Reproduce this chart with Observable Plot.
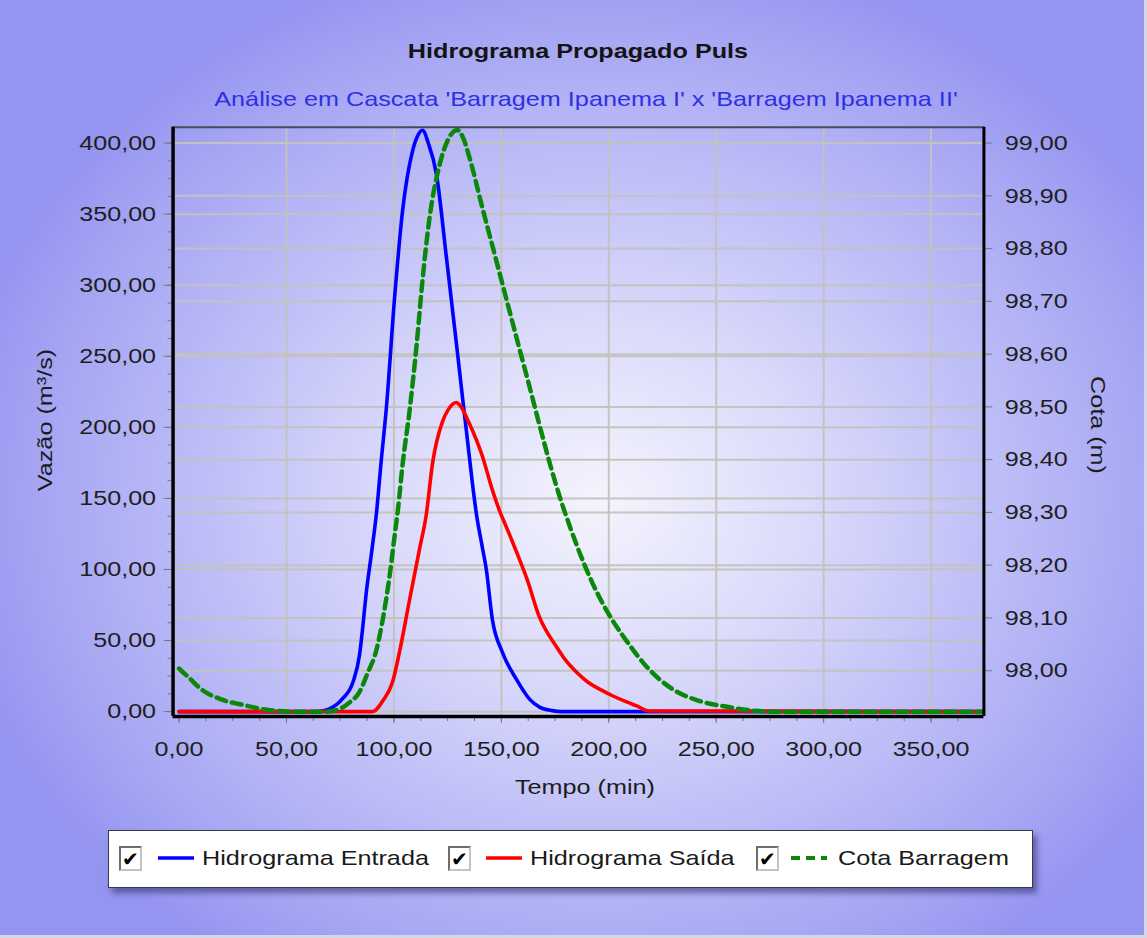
<!DOCTYPE html>
<html>
<head>
<meta charset="utf-8">
<script src="https://cdn.jsdelivr.net/npm/d3@7"></script>
<script src="https://cdn.jsdelivr.net/npm/@observablehq/plot@0.6"></script>
<style>
  html, body { margin: 0; padding: 0; }
  #wrap {
    position: relative; width: 1147px; height: 938px; overflow: hidden;
    font-family: "Liberation Sans", Arial, sans-serif; color: #1c1c1c;
    background: radial-gradient(ellipse 660px 560px at 600px 500px, #f4f4fd 0%, #dcdcfb 30%, #bcbcf7 62%, #a2a2f3 88%, #9494f1 100%);
    box-sizing: border-box; border-right: 3px solid #d6d6e4; border-bottom: 3px solid #d6d6e4;
  }
  #wrap svg { position: absolute; left: 0; top: 0; }
  .abs { position: absolute; white-space: nowrap; line-height: 24px; }
  .sx { display: inline-block; transform: scaleX(1.2); }
  .cb { position: absolute; width: 23px; height: 25px; background: #fff; box-sizing: border-box;
        border: 2px solid; border-color: #6e6e6e #c4c4c4 #c4c4c4 #6e6e6e;
        font: bold 20px "DejaVu Sans", sans-serif; line-height: 22px; text-align: center; color: #000; }
</style>
</head>
<body>
<div id="wrap"></div>
<script>
// ---------- data ----------
const tempoTicks = [0, 50, 100, 150, 200, 250, 300, 350];
const vazaoTicks = [0, 50, 100, 150, 200, 250, 300, 350, 400];
const cotaTicks  = [98.0, 98.1, 98.2, 98.3, 98.4, 98.5, 98.6, 98.7, 98.8, 98.9, 99.0];

// Hidrograma Entrada (m³/s)
const entradaT = [0, 64, 70, 76, 81, 84, 85.4, 87, 89.6, 91.9, 94, 96.5, 100.3, 104, 108.6, 111, 113.3, 116, 119.8, 124.4, 129, 131.4, 132.3, 133.7, 136.5, 138.3, 141.1, 143, 145.8, 150.4, 156.9, 163, 168, 173.6, 178, 374];
const entradaQ = [0, 0, 2, 9, 21, 40, 58, 82, 112, 140, 175, 214, 291, 352, 394, 405, 409, 400, 378, 320, 260, 228, 216, 198, 161, 140, 116, 100, 65, 42, 23, 9, 3, 0.7, 0, 0];

// Hidrograma Saída (m³/s)
const saidaT = [0, 90, 95, 99.4, 102.6, 107.2, 112, 115, 118, 122.6, 125.5, 129, 131, 135, 141.1, 145.8, 149, 152.3, 156.9, 162, 167.6, 175.5, 180, 184.8, 190, 195.5, 202, 208, 213, 218.7, 374];
const saidaQ = [0, 0, 8, 21, 42, 78, 115, 138, 175, 204, 213, 217.5, 215, 203, 180, 156, 142, 130, 113, 93, 67, 46, 36, 28, 21, 16, 11, 7, 4, 0.5, 0];

// Cota Barragem (m)
const cotaT = [0, 5, 10, 20, 30, 40.8, 56, 67, 72, 79.4, 84, 87.7, 91.9, 94.7, 98, 100.3, 102, 104, 107.2, 110.5, 113.3, 116.5, 121.2, 125, 129.5, 132, 135, 141, 146.7, 152.3, 158.3, 163, 167.6, 172.2, 176.9, 182.9, 186.2, 192.2, 200, 208, 217.3, 229.3, 241.9, 254.4, 268, 280, 374];
const cotaH = [98.004, 97.985, 97.966, 97.945, 97.935, 97.926, 97.922, 97.922, 97.924, 97.94, 97.96, 97.995, 98.04, 98.095, 98.18, 98.255, 98.31, 98.39, 98.49, 98.615, 98.74, 98.856, 98.958, 99.005, 99.025, 99.012, 98.975, 98.88, 98.792, 98.705, 98.612, 98.54, 98.468, 98.398, 98.333, 98.262, 98.226, 98.168, 98.107, 98.058, 98.009, 97.966, 97.943, 97.932, 97.924, 97.922, 97.922];

// ---------- scales / helpers ----------
const tempoDomain = [-2.8, 374.6];
const vazaoDomain = [-3.5, 411.2];
// right axis (Cota) aligned to left axis (Vazão): 98,00 ↔ 28.8 ; 99,00 ↔ 400
const cotaLink = {c0: 98, v0: 28.8, c1: 99, v1: 400};
const kLink = (cotaLink.v1 - cotaLink.v0) / (cotaLink.c1 - cotaLink.c0);
const toV = c => cotaLink.v0 + (c - cotaLink.c0) * kLink;
const fromV = v => cotaLink.c0 + (v - cotaLink.v0) / kLink;
const fmt = d => (Math.round(d * 100) / 100).toFixed(2).replace(".", ",");

const entrada = entradaT.map((t, i) => ({t, q: entradaQ[i]}));
const saida = saidaT.map((t, i) => ({t, q: saidaQ[i]}));
const cota = cotaT.map((t, i) => ({t, h: cotaH[i]}));
const minorTempo = d3.range(0, 375, 12.5);
const minorVazao = d3.range(0, 411, 12.5);

const gridStyle = {stroke: "#c4c2be", strokeOpacity: 0.95, strokeWidth: 2};
const tickColor = "#767686";
const textColor = "#1e1e1e";

const chart = Plot.plot({
  width: 1147, height: 938,
  marginLeft: 173, marginRight: 161, marginTop: 127, marginBottom: 220,
  x: {domain: tempoDomain, label: null},
  y: {domain: vazaoDomain, label: null},
  style: {background: "transparent", fontFamily: "'Liberation Sans', Arial, sans-serif", fontSize: "21px", color: textColor, overflow: "visible"},
  marks: [
    Plot.gridX(tempoTicks.filter(d => d > 0), gridStyle),
    Plot.gridY(vazaoTicks, gridStyle),
    Plot.gridY(cotaTicks.map(toV), gridStyle),
    // minor ticks
    Plot.axisX({ticks: minorTempo, tickFormat: () => "", tickSize: 5, stroke: tickColor, label: null}),
    Plot.axisY({ticks: minorVazao, tickFormat: () => "", tickSize: 5, stroke: tickColor, label: null}),
    // major axes
    Plot.axisX({ticks: tempoTicks, tickFormat: fmt, tickSize: 7, tickPadding: 18, stroke: tickColor, fill: textColor, fontSize: 21, label: null}),
    Plot.axisY({anchor: "left", ticks: vazaoTicks, tickFormat: fmt, tickSize: 9, tickPadding: 8, stroke: tickColor, fill: textColor, fontSize: 21, label: null}),
    Plot.axisY({anchor: "right", ticks: cotaTicks.map(toV), tickFormat: v => fmt(fromV(v)), tickSize: 8, tickPadding: 13, stroke: tickColor, fill: textColor, fontSize: 21, label: null}),
    // series
    Plot.line(entrada, {x: "t", y: "q", stroke: "#0000ff", strokeWidth: 3.6, curve: "monotone-x"}),
    Plot.line(saida, {x: "t", y: "q", stroke: "#ff0000", strokeWidth: 3.6, curve: "monotone-x"}),
    Plot.line(cota, {x: "t", y: d => toV(d.h), stroke: "#0b880b", strokeWidth: 4.5, strokeDasharray: "10,6", curve: "monotone-x"}),
    // frame
    Plot.ruleY([vazaoDomain[1]], {stroke: "#4a4a5a", strokeWidth: 2}),
    Plot.ruleX([tempoDomain[1]], {stroke: "#000", strokeWidth: 3}),
    Plot.ruleX([tempoDomain[0]], {stroke: "#000", strokeWidth: 3.5}),
    Plot.ruleY([vazaoDomain[0]], {stroke: "#000", strokeWidth: 3.5})
  ]
});

// widen glyphs horizontally to match the reference's stretched lettering
chart.querySelectorAll("text").forEach(t => {
  const tr = t.getAttribute("transform") || "";
  t.setAttribute("transform", tr + " scale(1.2,1)");
});

const wrap = document.getElementById("wrap");
wrap.appendChild(chart);

function addText(html, css) {
  const d = document.createElement("div");
  d.className = "abs";
  d.style.cssText = css;
  d.innerHTML = html;
  wrap.appendChild(d);
  return d;
}

// title & subtitle
addText('<span class="sx" style="font-weight:bold;color:#141414">Hidrograma Propagado Puls</span>',
  "left:578px;top:39px;font-size:21px;transform:translateX(-50%);");
addText('<span class="sx" style="color:#2f2fe4">Análise em Cascata \'Barragem Ipanema I\' x \'Barragem Ipanema II\'</span>',
  "left:586px;top:87px;font-size:21px;transform:translateX(-50%);");

// axis titles
addText("Vazão (m³/s)", "left:45px;top:420px;font-size:21px;transform:translate(-50%,-50%) rotate(-90deg) scaleX(1.2);");
addText("Cota (m)", "left:1098px;top:425px;font-size:21px;transform:translate(-50%,-50%) rotate(90deg) scaleX(1.2);");
addText("Tempo (min)", "left:585px;top:787px;font-size:21px;transform:translate(-50%,-50%) scaleX(1.2);");

// legend
const legendBox = document.createElement("div");
legendBox.style.cssText = "position:absolute;left:108px;top:830px;width:925px;height:58px;background:#fff;border:1.5px solid #3a3a44;box-sizing:border-box;box-shadow:4px 5px 6px rgba(40,40,100,0.55);";
wrap.appendChild(legendBox);

const legendItems = [
  {label: "Hidrograma Entrada", color: "#0000ff", dash: null, cb: 119, sw: 158, tx: 202},
  {label: "Hidrograma Saída", color: "#ff0000", dash: null, cb: 448, sw: 486, tx: 530},
  {label: "Cota Barragem", color: "#0b880b", dash: "9,6", cb: 756, sw: 791, tx: 838}
];
legendItems.forEach(it => {
  const c = document.createElement("div");
  c.className = "cb";
  c.style.left = it.cb + "px"; c.style.top = "846px";
  c.textContent = "✔";
  wrap.appendChild(c);
  const s = document.createElementNS("http://www.w3.org/2000/svg", "svg");
  s.setAttribute("width", 36); s.setAttribute("height", 8);
  s.style.cssText = `position:absolute;left:${it.sw}px;top:854px;`;
  const l = document.createElementNS("http://www.w3.org/2000/svg", "line");
  l.setAttribute("x1", 0); l.setAttribute("x2", 36); l.setAttribute("y1", 4); l.setAttribute("y2", 4);
  l.setAttribute("stroke", it.color); l.setAttribute("stroke-width", it.dash ? 4 : 3.5);
  if (it.dash) l.setAttribute("stroke-dasharray", it.dash);
  s.appendChild(l);
  wrap.appendChild(s);
  addText(`<span class="sx" style="transform-origin:left center">${it.label}</span>`,
    `left:${it.tx}px;top:846px;font-size:21px;color:#1a1a1a;`);
});
</script>
</body>
</html>
